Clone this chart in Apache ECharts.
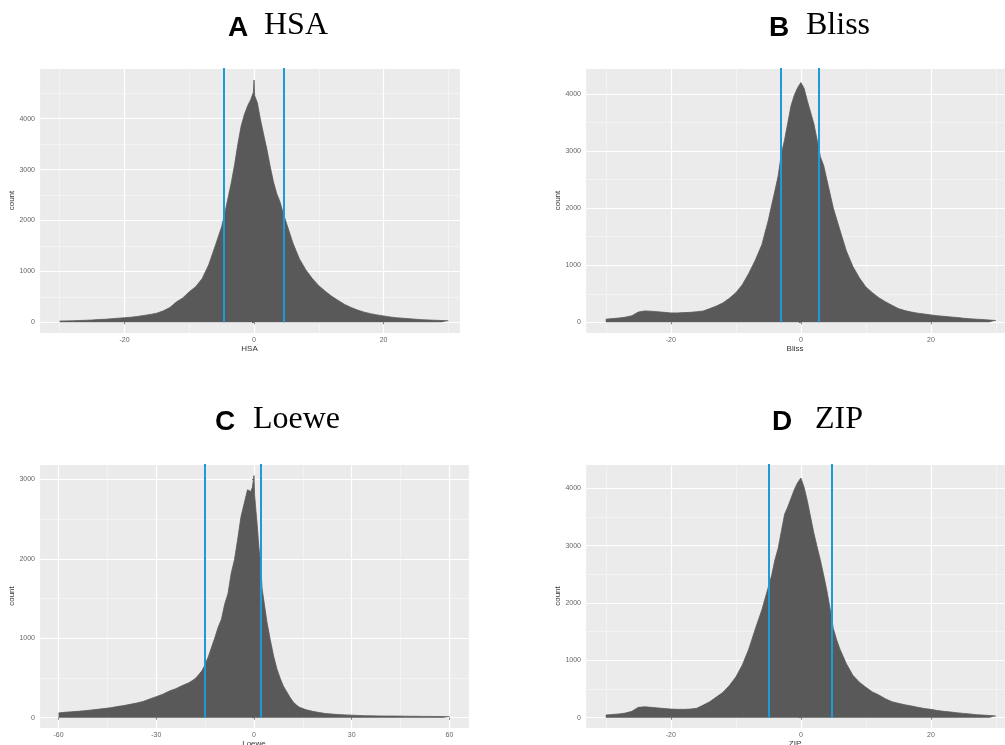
<!DOCTYPE html>
<html>
<head>
<meta charset="utf-8">
<script src="https://cdn.jsdelivr.net/npm/echarts@6/dist/echarts.min.js"></script>
<style>
  html, body { margin: 0; padding: 0; background: #fff; }
  #main { width: 1005px; height: 745px; }
</style>
</head>
<body>
<div id="main"></div>
<script>
// outline of each histogram: [score, count]
var hsaBins = [[-30,25],[-29,28],[-28,30],[-27,35],[-26,40],[-25,45],[-24,55],[-23,60],[-22,70],[-21,80],[-20,90],
  [-19,100],[-18,115],[-17,135],[-16,155],[-15,180],[-14,225],[-13,290],[-12,400],[-11,480],[-10,600],[-9,700],
  [-8,860],[-7,1130],[-6,1500],[-5,1880],[-4.5,2150],[-4,2450],[-3.5,2750],[-3,3100],[-2.5,3500],[-2,3850],
  [-1.5,4080],[-1,4250],[-0.5,4380],[-0.1,4520],[0,4760],[0.1,4450],[0.5,4320],[1,3980],[1.5,3680],[2,3390],
  [2.5,3060],[3,2760],[3.5,2530],[4,2370],[4.5,2150],[5,1950],[6,1560],[7,1250],[8,1030],[9,860],[10,720],
  [11,610],[12,510],[13,430],[14,350],[15,290],[16,240],[17,200],[18,170],[19,145],[20,125],[21,105],[22,90],
  [23,80],[24,70],[25,60],[26,52],[27,45],[28,40],[29,35],[30,30]];

var blissBins = [[-30,55],[-29,65],[-28,75],[-27,90],[-26,115],[-25,180],[-24,200],[-23,195],[-22,185],[-21,175],
  [-20,165],[-19,165],[-18,170],[-17,175],[-16,185],[-15,200],[-14,240],[-13,285],[-12,340],[-11,420],[-10,520],
  [-9,660],[-8,860],[-7,1090],[-6,1360],[-5,1790],[-4.5,2050],[-4,2300],[-3.5,2560],[-3,2950],[-2.5,3200],
  [-2,3500],[-1.5,3800],[-1,3980],[-0.5,4110],[0,4200],[0.2,4230],[0.5,4100],[1,3880],[1.5,3680],[2,3480],
  [2.5,3200],[3,2900],[3.5,2750],[4,2500],[5,2000],[6,1620],[7,1250],[8,980],[9,780],[10,620],[11,520],[12,430],
  [13,360],[14,300],[15,240],[16,205],[17,180],[18,160],[19,145],[20,130],[21,115],[22,105],[23,95],[24,85],
  [25,72],[26,62],[27,55],[28,48],[29,40],[30,32]];

var loeweBins = [[-60,60],[-58,68],[-56,74],[-54,80],[-52,88],[-50,96],[-48,105],[-46,115],[-44,125],[-42,140],
  [-40,152],[-38,168],[-36,185],[-34,205],[-32,235],[-30,265],[-28,295],[-26,335],[-24,365],[-22,405],[-20,440],
  [-19,465],[-18,495],[-17,540],[-16,590],[-15,670],[-14,770],[-13,890],[-12,1010],[-11,1140],[-10,1240],
  [-9,1430],[-8,1560],[-7,1820],[-6,1990],[-5,2250],[-4,2530],[-3,2700],[-2,2870],[-1.5,2880],[-1,2850],
  [-0.5,2900],[-0.1,2920],[0,3050],[0.2,2800],[0.5,2650],[1,2420],[1.5,2150],[2,1950],[2.5,1620],[3,1480],
  [4,1200],[5,980],[6,780],[7,620],[8,500],[9,400],[10,330],[11,260],[12,200],[13,160],[14,130],[16,100],
  [18,80],[20,65],[22,52],[24,45],[26,40],[28,35],[30,32],[32,28],[34,25],[36,23],[38,22],[40,21],[42,20],
  [44,20],[46,19],[48,18],[50,17],[52,16],[54,16],[56,15],[58,14],[60,13]];

var zipBins = [[-30,45],[-29,55],[-28,65],[-27,80],[-26,110],[-25,180],[-24,190],[-23,180],[-22,170],[-21,160],
  [-20,150],[-19,145],[-18,145],[-17,150],[-16,165],[-15,220],[-14,280],[-13,360],[-12,440],[-11,560],[-10,710],
  [-9,920],[-8,1200],[-7,1550],[-6,1880],[-5,2280],[-4.5,2480],[-4,2750],[-3.5,2950],[-3,3250],[-2.5,3550],
  [-2,3680],[-1.5,3830],[-1,3980],[-0.5,4100],[0,4180],[0.2,4150],[0.5,4020],[1,3780],[1.5,3500],[2,3220],
  [2.5,2980],[3,2750],[3.5,2490],[4,2220],[4.5,1900],[5,1550],[5.5,1360],[6,1200],[7,940],[8,740],[9,620],
  [10,530],[11,450],[12,395],[13,330],[14,280],[15,250],[16,225],[17,205],[18,180],[19,160],[20,145],[21,125],
  [22,110],[23,100],[24,85],[25,75],[26,65],[27,52],[28,45],[29,38],[30,30]];

// blue threshold lines
var hsaCuts = [-4.6, 4.6];
var blissCuts = [-3.1, 2.8];
var loeweCuts = [-15.1, 2.2];
var zipCuts = [-5.0, 4.8];

var letters = ['A', 'B', 'C', 'D'];
var names = ['HSA', 'Bliss', 'Loewe', 'ZIP'];

var panels = [
  { bins: hsaBins, cuts: hsaCuts, grid: { left: 39, top: 68, width: 421, height: 265 },
    x: [-33.2, 31.8], xStep: 20, y: [-210, 4997], yStep: 1000,
    title: { lx: 228, nx: 264, y: 27 } },
  { bins: blissBins, cuts: blissCuts, grid: { left: 585, top: 68, width: 420, height: 265 },
    x: [-33.2, 31.4], xStep: 20, y: [-187, 4455], yStep: 1000,
    title: { lx: 769, nx: 806, y: 27 } },
  { bins: loeweBins, cuts: loeweCuts, grid: { left: 39, top: 464, width: 430, height: 264 },
    x: [-66, 66], xStep: 30, y: [-130, 3195], yStep: 1000,
    title: { lx: 215, nx: 253, y: 421 } },
  { bins: zipBins, cuts: zipCuts, grid: { left: 585, top: 464, width: 420, height: 264 },
    x: [-33.2, 31.4], xStep: 20, y: [-180, 4425], yStep: 1000,
    title: { lx: 772, nx: 815, y: 421 } }
];

var grids = [], xAxes = [], yAxes = [], series = [], graphics = [];

function onStep(step) {
  return function (v) {
    var r = v / step;
    return Math.abs(r - Math.round(r)) < 1e-6 ? String(v) : '';
  };
}

panels.forEach(function (p, i) {
  grids.push(Object.assign({ show: true, backgroundColor: '#EBEBEB', borderWidth: 0,
    containLabel: false, outerBoundsMode: 'none' }, p.grid));

  // minor grid lines
  xAxes.push({
    type: 'value', gridIndex: i, position: 'bottom', offset: 0, min: p.x[0], max: p.x[1],
    minInterval: p.xStep / 2, maxInterval: p.xStep / 2,
    axisLine: { show: false }, axisTick: { show: false }, axisLabel: { show: false },
    splitLine: { show: true, lineStyle: { color: '#F7F7F7', width: 0.7 } }
  });
  // major axis
  xAxes.push({
    type: 'value', gridIndex: i, position: 'bottom', offset: 0, min: p.x[0], max: p.x[1],
    minInterval: p.xStep, maxInterval: p.xStep,
    name: names[i], nameLocation: 'middle', nameGap: 11,
    nameTextStyle: { fontSize: 8, color: '#333', fontFamily: 'Liberation Sans' },
    axisLine: { show: false },
    axisTick: { show: true, length: 2, lineStyle: { color: '#555', width: 0.8 } },
    axisLabel: { fontSize: 7, color: '#666', margin: 4, fontFamily: 'Liberation Sans',
      showMinLabel: false, showMaxLabel: false, formatter: onStep(p.xStep) },
    splitLine: { show: true, lineStyle: { color: '#FFFFFF', width: 1.2 } }
  });
  yAxes.push({
    type: 'value', gridIndex: i, position: 'left', offset: 0, min: p.y[0], max: p.y[1],
    minInterval: p.yStep / 2, maxInterval: p.yStep / 2,
    axisLine: { show: false }, axisTick: { show: false }, axisLabel: { show: false },
    splitLine: { show: true, lineStyle: { color: '#F7F7F7', width: 0.7 } }
  });
  yAxes.push({
    type: 'value', gridIndex: i, position: 'left', offset: 0, min: p.y[0], max: p.y[1],
    minInterval: p.yStep, maxInterval: p.yStep,
    name: 'count', nameLocation: 'middle', nameGap: 18, nameRotate: 90,
    nameTextStyle: { fontSize: 8, color: '#333', fontFamily: 'Liberation Sans' },
    axisLine: { show: false },
    axisTick: { show: true, length: 2, lineStyle: { color: '#555', width: 0.8 } },
    axisLabel: { fontSize: 7, color: '#666', margin: 4, fontFamily: 'Liberation Sans',
      showMinLabel: false, showMaxLabel: false, formatter: onStep(p.yStep) },
    splitLine: { show: true, lineStyle: { color: '#FFFFFF', width: 1.2 } }
  });

  series.push({
    type: 'line',
    xAxisIndex: 2 * i + 1,
    yAxisIndex: 2 * i + 1,
    data: p.bins,
    symbol: 'none',
    lineStyle: { color: '#595959', width: 0.8 },
    areaStyle: { color: '#595959', opacity: 1 },
    markLine: {
      silent: true,
      symbol: 'none',
      label: { show: false },
      lineStyle: { color: '#1E9BD7', width: 2, type: 'solid' },
      data: p.cuts.map(function (c) {
        return [{ coord: [c, 0] }, { coord: [c, p.y[1]] }];
      })
    }
  });

  graphics.push({
    type: 'text', x: p.title.lx, y: p.title.y + 1,
    style: { text: letters[i], font: 'bold 28px "Liberation Sans"', fill: '#000', verticalAlign: 'middle' }
  });
  graphics.push({
    type: 'text', x: p.title.nx, y: p.title.y - 1,
    style: { text: names[i], font: '32px "Liberation Serif"', fill: '#000', verticalAlign: 'middle' }
  });
});

var chart = echarts.init(document.getElementById('main'));
chart.setOption({
  animation: false,
  backgroundColor: '#FFFFFF',
  grid: grids,
  xAxis: xAxes,
  yAxis: yAxes,
  series: series,
  graphic: graphics
});
</script>
</body>
</html>
